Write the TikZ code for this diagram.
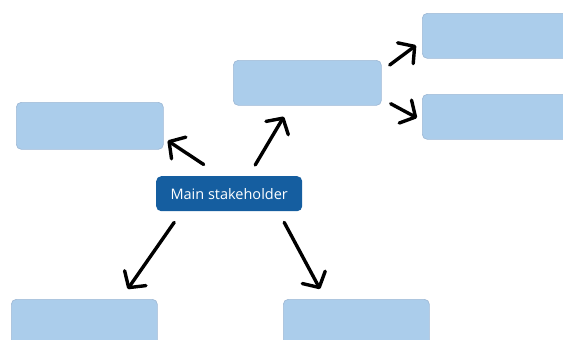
\documentclass[tikz,border=0pt]{standalone}
\usepackage{fontspec}
\setmainfont{Open Sans}
\usetikzlibrary{arrows.meta}
\definecolor{boxlight}{RGB}{171,205,235}
\definecolor{boxedge}{RGB}{160,186,214}
\definecolor{boxdark}{RGB}{21,94,160}
\tikzset{
  lightbox/.style={draw=boxedge, line width=0.7pt, fill=boxlight, rounded corners=5pt,
    inner sep=0pt, anchor=north west},
  mainbox/.style={fill=boxdark, rounded corners=5pt, inner sep=0pt, anchor=north west,
    text=white, font=\fontsize{14.5}{17}\selectfont},
  arr/.style={line width=3.4pt, line cap=round, line join=round,
    -{Straight Barb[length=11.5pt,width=26pt,line cap=round,line join=round]}},
}
\begin{document}
\begin{tikzpicture}[x=1pt,y=-1pt]
\useasboundingbox (0,0) rectangle (563,340);

% stakeholder boxes
\node[mainbox, minimum width=146pt, minimum height=35pt] (main) at (156,176) {Main stakeholder};
\node[lightbox, minimum width=148pt, minimum height=45pt] (tc) at (233,60) {};
\node[lightbox, minimum width=155pt, minimum height=45pt] (r1) at (422,13) {};
\node[lightbox, minimum width=155pt, minimum height=45pt] (r2) at (422,94) {};
\node[lightbox, minimum width=147pt, minimum height=47pt] (lf) at (16,102) {};
\node[lightbox, minimum width=146pt, minimum height=60pt] (bl) at (11,299) {};
\node[lightbox, minimum width=146pt, minimum height=60pt] (br) at (283,299) {};

% arrows from the main stakeholder
\draw[arr] ([shift={(26,-11)}]main.north) -- ([shift={(-23.5,11)}]tc.south);
\draw[arr] ([shift={(-25.5,-11.5)}]main.north) -- ([shift={(4,-9)}]lf.south east);
\draw[arr] ([shift={(-55,11)}]main.south) -- ([shift={(-30,-10)}]bl.north east);
\draw[arr] ([shift={(55,11)}]main.south) -- ([shift={(37,-10)}]br.north west);

% arrows from the upper box
\draw[arr] ([shift={(8,5)}]tc.north east) -- ([shift={(-6,9.5)}]r1.west);
\draw[arr] ([shift={(9,-2)}]tc.south east) -- ([shift={(-5,1)}]r2.west);
\end{tikzpicture}
\end{document}
